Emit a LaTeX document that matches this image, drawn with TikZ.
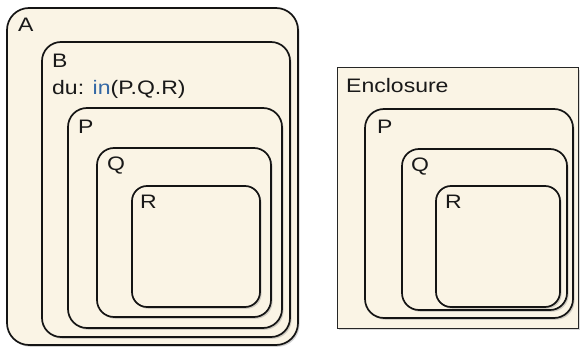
\documentclass[tikz,border=0pt]{standalone}
\usepackage{fontspec}
\setmainfont{Liberation Sans}[FakeStretch=1.18]
\usetikzlibrary{shadows}
\definecolor{statefill}{RGB}{250,244,229}
\definecolor{kwblue}{RGB}{52,104,165}

\begin{document}
\begin{tikzpicture}[
  x=1pt, y=-1pt,
  every node/.style={font=\fontsize{19.5}{23}\selectfont, text=black!90},
  state/.style={draw=black!92, line width=1.7pt, fill=statefill, rounded corners=19pt,
    inner sep=0pt, drop shadow={shadow xshift=1.6pt, shadow yshift=-1.8pt, opacity=.35}},
  box/.style={draw=black!85, line width=1pt, fill=statefill, inner sep=0pt,
    drop shadow={shadow xshift=1.6pt, shadow yshift=-1.8pt, opacity=.3}},
  lbl/.style={anchor=base west, inner sep=0pt}
]
\useasboundingbox (0,0) rectangle (580,350);
% left chart
\node[state, minimum width=291pt, minimum height=337pt, rounded corners=22pt] (A) at (152.5,176.5) {};
\node[state, minimum width=248pt, minimum height=295pt] (B) at (166,189.5) {};
\node[state, minimum width=214pt, minimum height=220pt] (P) at (175,218) {};
\node[state, minimum width=174pt, minimum height=169pt, rounded corners=17pt] (Q) at (184,232.5) {};
\node[state, minimum width=128pt, minimum height=121pt, rounded corners=15pt] (R) at (196,246.5) {};
% right chart
\node[box, minimum width=241pt, minimum height=260pt] (E) at (457.5,198) {};
\node[state, minimum width=208pt, minimum height=209pt] (P2) at (469,213.5) {};
\node[state, minimum width=165pt, minimum height=161pt, rounded corners=17pt] (Q2) at (484.5,229.5) {};
\node[state, minimum width=124pt, minimum height=121pt, rounded corners=15pt] (R2) at (498,246.5) {};
% labels
\foreach \p/\lx/\ly/\t in {A/18/32/A, B/52/68/B, P/78/133/P, Q/107/170/Q, R/140/208/R,
  E/346/93/Enclosure, P2/377/133/P, Q2/411/171/Q, R2/445/208/R} {
  \node[lbl] (\p-lbl) at (\lx,\ly) {\t};
}
\node[lbl] (du) at (52,95) {du: \textcolor{kwblue}{in}(P.Q.R)};
\end{tikzpicture}
\end{document}
